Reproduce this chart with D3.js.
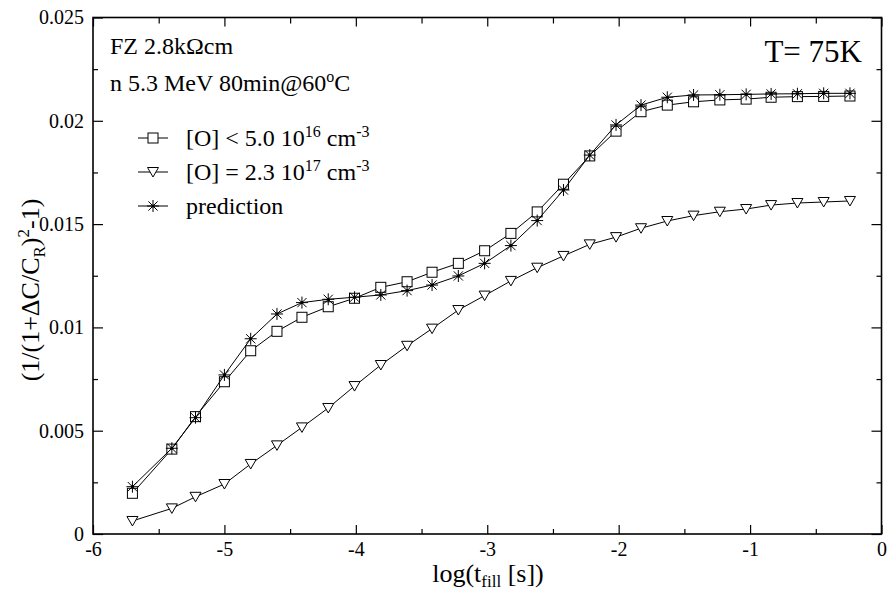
<!DOCTYPE html>
<html>
<head>
<meta charset="utf-8">
<script src="https://cdn.jsdelivr.net/npm/d3@7"></script>
<style>
  html, body { margin: 0; padding: 0; background: #fff; }
  svg { display: block; }
</style>
</head>
<body>
<svg id="chart" width="889" height="594"></svg>
<script>
// log10 of fill time (s)
const logTfill = [-5.70, -5.40, -5.22, -5.00, -4.80, -4.60, -4.41, -4.21, -4.01, -3.81,
  -3.61, -3.42, -3.22, -3.02, -2.82, -2.62, -2.42, -2.22, -2.02, -1.83,
  -1.63, -1.43, -1.23, -1.03, -0.84, -0.64, -0.44, -0.24];

// [O] < 5.0e16 cm^-3
const lowOxygen = [0.00197, 0.00411, 0.00568, 0.00737, 0.00887, 0.00981, 0.01049, 0.01100, 0.01141, 0.01194,
  0.01221, 0.01267, 0.01310, 0.01371, 0.01455, 0.01559, 0.01693, 0.01830, 0.01950, 0.02044,
  0.02076, 0.02092, 0.02101, 0.02105, 0.02114, 0.02117, 0.02118, 0.02120];

// [O] = 2.3e17 cm^-3
const highOxygen = [0.00063, 0.00124, 0.00180, 0.00242, 0.00339, 0.00429, 0.00516, 0.00610, 0.00716, 0.00818,
  0.00911, 0.00994, 0.01084, 0.01154, 0.01225, 0.01289, 0.01346, 0.01402, 0.01437, 0.01480,
  0.01515, 0.01541, 0.01560, 0.01573, 0.01592, 0.01602, 0.01607, 0.01612];

// model prediction
const prediction = [0.00229, 0.00415, 0.00563, 0.00770, 0.00945, 0.01065, 0.01120, 0.01136, 0.01146, 0.01157,
  0.01178, 0.01205, 0.01249, 0.01310, 0.01396, 0.01517, 0.01665, 0.01834, 0.01980, 0.02076,
  0.02114, 0.02125, 0.02126, 0.02128, 0.02130, 0.02131, 0.02133, 0.02133];

const xMajorTicks = [-6, -5, -4, -3, -2, -1, 0];
const xMinorTicks = [-5.5, -4.5, -3.5, -2.5, -1.5, -0.5];
const yMajorTicks = [0, 0.005, 0.01, 0.015, 0.02, 0.025];
const yMinorTicks = [0.0025, 0.0075, 0.0125, 0.0175, 0.0225];
const xTickLabels = ["-6", "-5", "-4", "-3", "-2", "-1", "0"];
const yTickLabels = ["0", "0.005", "0.01", "0.015", "0.02", "0.025"];

const W = 889, H = 594;
const margin = { left: 93, right: 7.5, top: 17.5, bottom: 60 };
const SERIF = "'Liberation Serif', 'Times New Roman', serif";
const svg = d3.select("#chart").style("font-family", SERIF);

const x = d3.scaleLinear().domain([-6, 0]).range([margin.left, W - margin.right]);
const y = d3.scaleLinear().domain([0, 0.025]).range([H - margin.bottom, margin.top]);

const axisFont = 20;

function styleAxis(g) {
  g.attr("font-family", null).attr("font-size", null);
  g.select(".domain").remove();
  g.selectAll("line").attr("stroke", "#000").attr("stroke-width", 1.2);
  g.selectAll("text").style("font-family", SERIF).style("font-size", axisFont + "px").style("fill", "#000");
}

// bottom axis
svg.append("g").attr("transform", `translate(0,${y(0)})`)
  .call(d3.axisBottom(x).tickValues(xMajorTicks).tickSize(-9).tickPadding(8).tickFormat((d, i) => xTickLabels[i]))
  .call(styleAxis);
svg.append("g").attr("transform", `translate(0,${y(0)})`)
  .call(d3.axisBottom(x).tickValues(xMinorTicks).tickSize(-5).tickFormat(""))
  .call(styleAxis);
// top axis
svg.append("g").attr("transform", `translate(0,${y(0.025)})`)
  .call(d3.axisTop(x).tickValues(xMajorTicks).tickSize(-9).tickFormat(""))
  .call(styleAxis);
svg.append("g").attr("transform", `translate(0,${y(0.025)})`)
  .call(d3.axisTop(x).tickValues(xMinorTicks).tickSize(-6).tickFormat(""))
  .call(styleAxis);
// left axis
svg.append("g").attr("transform", `translate(${x(-6)},0)`)
  .call(d3.axisLeft(y).tickValues(yMajorTicks).tickSize(-10).tickPadding(9).tickFormat((d, i) => yTickLabels[i]))
  .call(styleAxis);
svg.append("g").attr("transform", `translate(${x(-6)},0)`)
  .call(d3.axisLeft(y).tickValues(yMinorTicks).tickSize(-5).tickFormat(""))
  .call(styleAxis);
// right axis
svg.append("g").attr("transform", `translate(${x(0)},0)`)
  .call(d3.axisRight(y).tickValues(yMajorTicks).tickSize(-10).tickFormat(""))
  .call(styleAxis);
svg.append("g").attr("transform", `translate(${x(0)},0)`)
  .call(d3.axisRight(y).tickValues(yMinorTicks).tickSize(-5).tickFormat(""))
  .call(styleAxis);

// frame
svg.append("rect")
  .attr("x", x(-6)).attr("y", y(0.025))
  .attr("width", x(0) - x(-6)).attr("height", y(0) - y(0.025))
  .attr("fill", "none").attr("stroke", "#000").attr("stroke-width", 1.6);

// marker drawers
function drawSquare(g, cx, cy) {
  g.append("rect").attr("x", cx - 5).attr("y", cy - 5).attr("width", 10).attr("height", 10)
    .attr("fill", "#fff").attr("stroke", "#000").attr("stroke-width", 1);
}
function drawTriangle(g, cx, cy) {
  g.append("path").attr("d", `M${cx - 5.5},${cy - 4.5}L${cx + 5.5},${cy - 4.5}L${cx},${cy + 5}Z`)
    .attr("fill", "#fff").attr("stroke", "#000").attr("stroke-width", 1);
}
function drawStar(g, cx, cy) {
  const r = 6, d = 4.6;
  const p = `M${cx},${cy - r}L${cx},${cy + r}M${cx - d},${cy - d}L${cx + d},${cy + d}M${cx - d},${cy + d}L${cx + d},${cy - d}M${cx - r},${cy}L${cx + r},${cy}`;
  g.append("path").attr("d", p).attr("stroke", "#000").attr("stroke-width", 1).attr("fill", "none");
  g.append("circle").attr("cx", cx).attr("cy", cy).attr("r", 1.6).attr("fill", "#000");
}

const line = d3.line().x(d => x(d[0])).y(d => y(d[1]));

const series = [
  { values: highOxygen, marker: drawTriangle },
  { values: lowOxygen, marker: drawSquare },
  { values: prediction, marker: drawStar }
];

series.forEach(s => {
  const pts = logTfill.map((v, i) => [v, s.values[i]]);
  const g = svg.append("g");
  g.append("path").datum(pts).attr("d", line)
    .attr("fill", "none").attr("stroke", "#000").attr("stroke-width", 1);
  pts.forEach(p => s.marker(g, x(p[0]), y(p[1])));
});

// text helpers
const txt = (parent, xx, yy, size, anchor) => parent.append("text")
  .attr("x", xx).attr("y", yy)
  .style("font-family", SERIF).style("font-size", size + "px").style("fill", "#000")
  .attr("text-anchor", anchor || "start");
const span = (t, s, size, dy) => {
  const ts = t.append("tspan").text(s).style("font-family", SERIF).style("fill", "#000");
  if (size) ts.style("font-size", size + "px");
  if (dy) ts.attr("dy", dy);
  return ts;
};

// annotations
txt(svg, 110, 54, 24).text("FZ 2.8kΩcm");
const t2 = txt(svg, 110, 91, 24);
span(t2, "n 5.3 MeV 80min@60");
span(t2, "o", 16, -9);
span(t2, "C", null, 9);

txt(svg, 862, 62, 31, "end").text("T= 75K");

// legend
const legendRows = [
  { y: 138, marker: drawSquare, parts: [["[O] < 5.0 10", 0], ["16", 1], [" cm", 0], ["-3", 1]] },
  { y: 172, marker: drawTriangle, parts: [["[O] = 2.3 10", 0], ["17", 1], [" cm", 0], ["-3", 1]] },
  { y: 206, marker: drawStar, parts: [["prediction", 0]] }
];
legendRows.forEach(row => {
  const g = svg.append("g");
  g.append("line").attr("x1", 138).attr("x2", 168).attr("y1", row.y).attr("y2", row.y)
    .attr("stroke", "#000").attr("stroke-width", 1);
  row.marker(g, 153, row.y);
  const t = txt(g, 186, row.y + 8, 24);
  let up = false;
  row.parts.forEach(([s, sup]) => {
    if (sup && !up) { span(t, s, 16, -9); up = true; }
    else if (!sup && up) { span(t, s, null, 9); up = false; }
    else span(t, s, sup ? 16 : null);
  });
});

// axis titles
const xt = txt(svg, 488, 582, 26, "middle");
span(xt, "log(t");
span(xt, "fill", 17, 5);
span(xt, " [s])", null, -5);

const yt = svg.append("text").attr("transform", "translate(39,290) rotate(-90)")
  .attr("text-anchor", "middle")
  .style("font-family", SERIF).style("font-size", "26px").style("fill", "#000");
span(yt, "(1/(1+ΔC/C");
span(yt, "R", 17, 6);
span(yt, ")", null, -6);
span(yt, "2", 17, -10);
span(yt, "-1)", null, 10);
</script>
</body>
</html>
